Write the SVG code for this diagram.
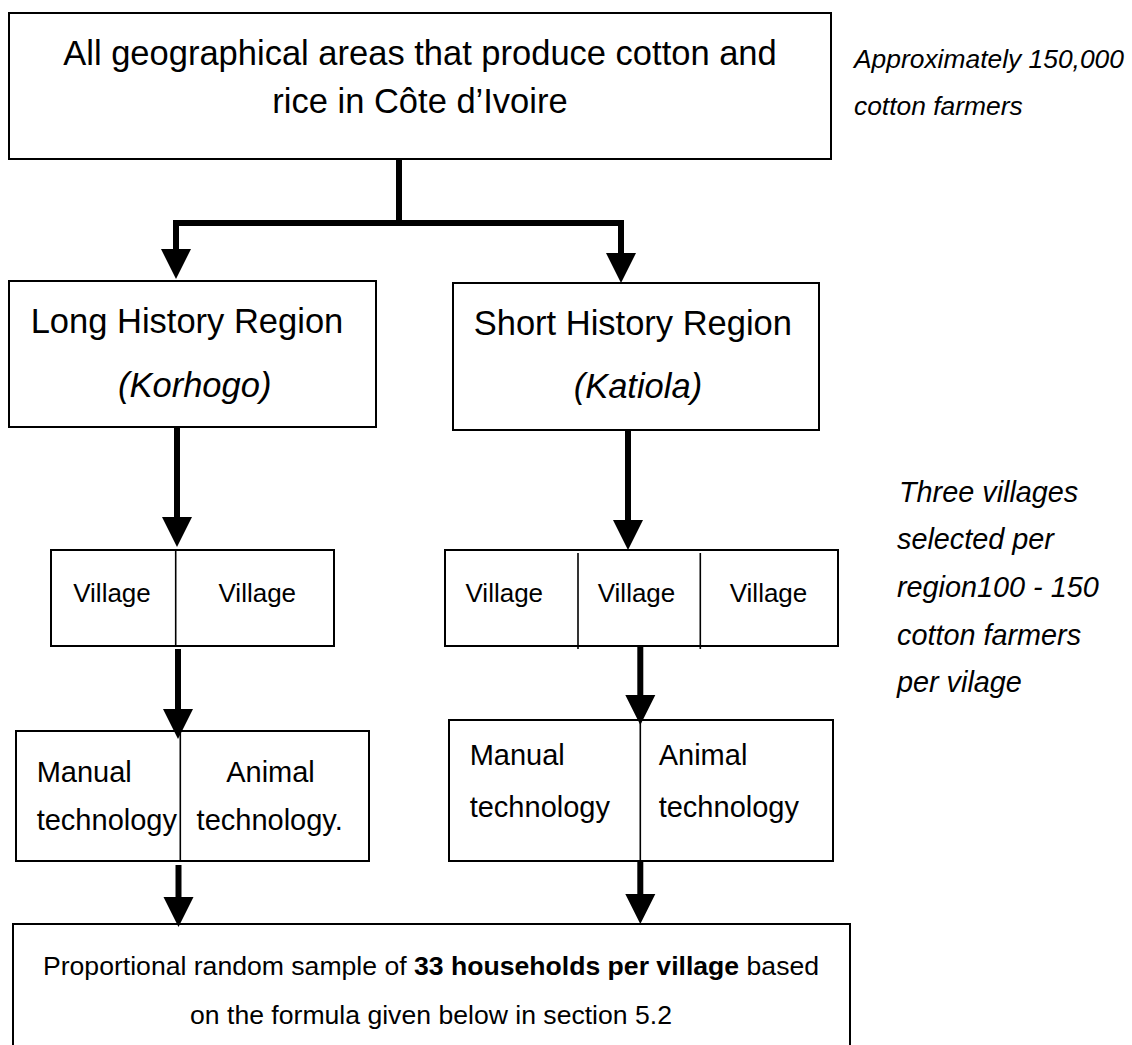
<svg xmlns="http://www.w3.org/2000/svg" width="1132" height="1045" viewBox="0 0 1132 1045">
<defs>
<style>
.box{fill:#fff;stroke:#000;stroke-width:2}
.div{stroke:#000;stroke-width:1.6}
.t{font-family:"Liberation Sans",Arial,sans-serif;fill:#000}
.big{font-size:34.5px}
.mid{font-size:29px}
.sm{font-size:26px}
.note{font-family:"Liberation Sans",Arial,sans-serif;font-style:italic;fill:#000}
.conn{fill:none;stroke:#000;stroke-width:6;stroke-linejoin:miter}
</style>
<marker id="ah" markerUnits="userSpaceOnUse" markerWidth="32" markerHeight="32" refX="0" refY="15" orient="auto" overflow="visible">
<path d="M0,0 L30,15 L0,30 Z" fill="#000"/>
</marker>
</defs>
<rect width="1132" height="1045" fill="#fff"/>

<g id="top">
<rect class="box" x="9" y="13" width="822" height="146"/>
<text class="t big" x="420" y="65" text-anchor="middle">All geographical areas that produce cotton and</text>
<text class="t big" x="420" y="113" text-anchor="middle">rice in Côte d’Ivoire</text>
</g>

<g id="note-top">
<text class="note" font-size="26.4" x="854" y="68">Approximately 150,000</text>
<text class="note" font-size="26.4" x="854" y="115">cotton farmers</text>
</g>

<g id="long">
<rect class="box" x="9" y="281" width="367" height="146"/>
<text class="t big" x="30.7" y="333">Long History Region</text>
<text class="t big" x="118" y="397" font-style="italic">(Korhogo)</text>
</g>

<g id="short">
<rect class="box" x="453" y="283" width="366" height="147"/>
<text class="t big" x="473.7" y="335">Short History Region</text>
<text class="t big" x="573.7" y="398" font-style="italic">(Katiola)</text>
</g>

<g id="long-villages">
<rect class="box" x="51" y="550" width="283" height="96"/>
<line class="div" x1="175.7" y1="550" x2="175.7" y2="646"/>
<text class="t sm" x="112" y="602" text-anchor="middle">Village</text>
<text class="t sm" x="257.3" y="602" text-anchor="middle">Village</text>
</g>

<g id="short-villages">
<rect class="box" x="445" y="550" width="393" height="96"/>
<line class="div" x1="578" y1="553" x2="578" y2="649"/>
<line class="div" x1="700.3" y1="553" x2="700.3" y2="649"/>
<text class="t sm" x="504.3" y="602" text-anchor="middle">Village</text>
<text class="t sm" x="636.5" y="602" text-anchor="middle">Village</text>
<text class="t sm" x="768.5" y="602" text-anchor="middle">Village</text>
</g>

<g id="note-villages">
<text class="note" font-size="28.8" x="899" y="502">Three villages</text>
<text class="note" font-size="28.8" x="897" y="549">selected per</text>
<text class="note" font-size="28.8" x="897" y="597">region100 - 150</text>
<text class="note" font-size="28.8" x="897" y="645">cotton farmers</text>
<text class="note" font-size="28.8" x="897" y="692">per vilage</text>
</g>

<g id="long-tech">
<rect class="box" x="16" y="731" width="353" height="130"/>
<line class="div" x1="180.3" y1="731" x2="180.3" y2="861"/>
<text class="t mid" x="36.7" y="782">Manual</text>
<text class="t mid" x="36.7" y="830">technology</text>
<text class="t mid" x="270.5" y="782" text-anchor="middle">Animal</text>
<text class="t mid" x="269.7" y="830" text-anchor="middle">technology.</text>
</g>

<g id="short-tech">
<rect class="box" x="449" y="720" width="384" height="141"/>
<line class="div" x1="640.3" y1="720" x2="640.3" y2="861"/>
<text class="t mid" x="469.7" y="765">Manual</text>
<text class="t mid" x="469.7" y="817">technology</text>
<text class="t mid" x="658.7" y="765">Animal</text>
<text class="t mid" x="658.7" y="817">technology</text>
</g>

<g id="sample">
<rect class="box" x="13" y="924" width="837" height="140"/>
<text class="t" font-size="26.6" x="431" y="975" text-anchor="middle">Proportional random sample of <tspan font-weight="bold">33 households per village</tspan> based</text>
<text class="t" font-size="26.6" x="431" y="1024" text-anchor="middle">on the formula given below in section 5.2</text>
</g>

<g id="connectors">
<path class="conn" d="M399,159 V223 H176 V249" marker-end="url(#ah)"/>
<path class="conn" d="M399,223 H621 V253" marker-end="url(#ah)"/>
<path class="conn" d="M177,427 V517" marker-end="url(#ah)"/>
<path class="conn" d="M628,430 V520" marker-end="url(#ah)"/>
<path class="conn" d="M178,649 V709" marker-end="url(#ah)"/>
<path class="conn" d="M640.3,646 V695" marker-end="url(#ah)"/>
<path class="conn" d="M178.5,865 V897" marker-end="url(#ah)"/>
<path class="conn" d="M640.3,861 V894" marker-end="url(#ah)"/>
</g>
</svg>
